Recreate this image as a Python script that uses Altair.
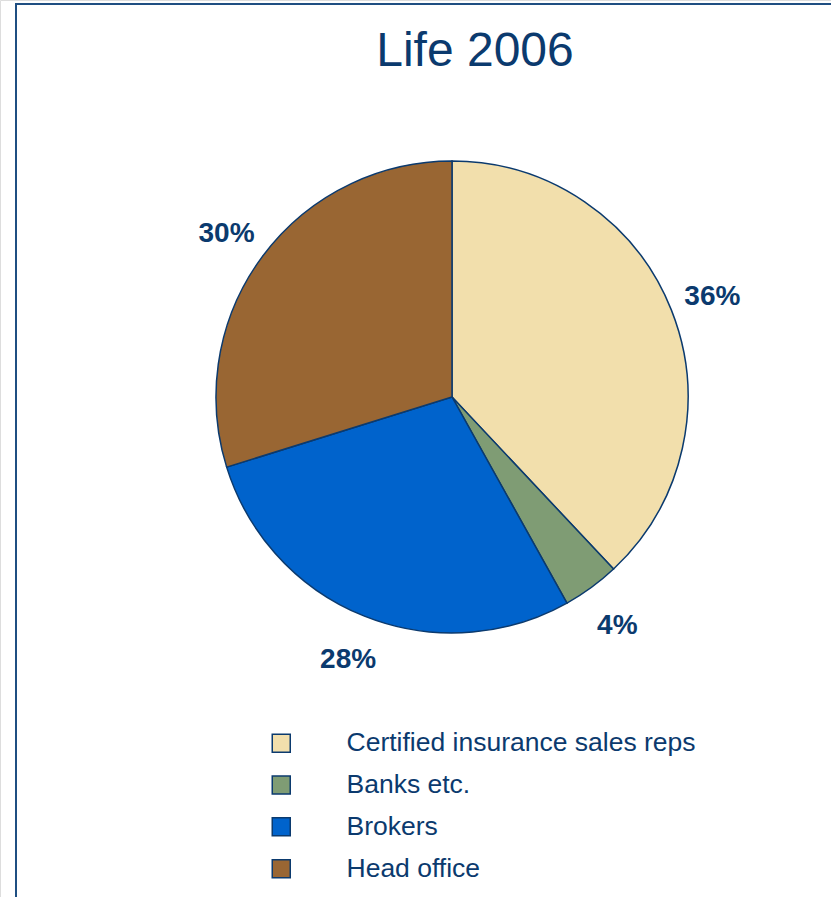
import altair as alt
import pandas as pd

title_text = ["Life 2006"]
categories = ["Certified insurance sales reps", "Banks etc.", "Brokers", "Head office"]
shares = [38.0, 3.9, 28.3, 29.8]          # slice sizes as drawn
labels = ["36%", "4%", "28%", "30%"]       # printed labels
colors = ["#F2DFAC", "#7F9C74", "#0063CC", "#996633"]
order = [0, 1, 2, 3]

NAVY = "#0B3A6E"
FONT = "Liberation Sans"
CX, CY, R = 452, 397, 236

df = pd.DataFrame({"cat": categories, "val": shares, "lab": labels, "ord": order})
tdf = pd.DataFrame({"t": title_text})

base = alt.Chart(df).encode(
    theta=alt.Theta("val:Q", stack=True),
    order=alt.Order("ord:Q"),
    x=alt.value(CX),
    y=alt.value(CY),
)

arcs = base.mark_arc(radius=R, stroke=NAVY, strokeWidth=1.5).encode(
    color=alt.Color(
        "cat:N",
        scale=alt.Scale(domain=categories, range=colors),
        sort=categories,
        legend=alt.Legend(
            title=None,
            orient="none",
            legendX=268,
            legendY=730,
            symbolType="square",
            symbolSize=324,
            symbolStrokeColor=NAVY,
            symbolStrokeWidth=1.5,
            symbolOpacity=1,
            labelFont=FONT,
            labelFontSize=26.5,
            labelColor=NAVY,
            labelOffset=52,
            labelLimit=600,
            rowPadding=14.8,
            padding=0,
        ),
    )
)

text = base.mark_text(
    radius=280, font=FONT, fontSize=28, fontWeight="bold", color=NAVY,
    align="center", baseline="middle", dy=3,
).encode(text="lab:N")

title = alt.Chart(tdf).mark_text(
    font=FONT, fontSize=48, color=NAVY, align="center", baseline="alphabetic"
).encode(text="t:N", x=alt.value(475), y=alt.value(66))

border_left = alt.Chart(tdf).mark_rule(color="#1F4F82", strokeWidth=2).encode(
    x=alt.value(16), y=alt.value(4), y2=alt.value(897)
)
border_top = alt.Chart(tdf).mark_rule(color="#1F4F82", strokeWidth=2).encode(
    x=alt.value(15), x2=alt.value(831), y=alt.value(4)
)

chart = alt.layer(border_left, border_top, arcs, text, title).properties(
    width=831, height=897, padding=0, autosize=alt.AutoSizeParams(type="none")
).configure_view(stroke=None).configure(background="white")

chart.save("out.html", embed_options={"renderer": "svg", "actions": False})
